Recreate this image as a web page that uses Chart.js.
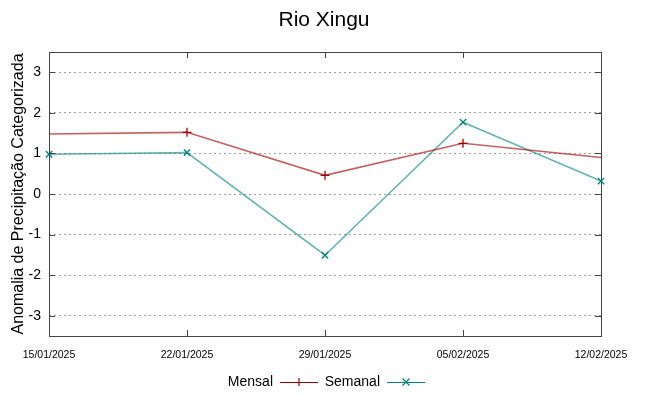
<!DOCTYPE html>
<html>
<head>
<meta charset="utf-8">
<script src="https://cdn.jsdelivr.net/npm/chart.js@4/dist/chart.umd.min.js"></script>
<style>
  html, body { margin: 0; padding: 0; background: #fff; }
  #wrap { width: 648px; height: 396px; }
</style>
</head>
<body>
<div id="wrap"><canvas id="chart" width="648" height="396"></canvas></div>
<script>
const dates = ['15/01/2025', '22/01/2025', '29/01/2025', '05/02/2025', '12/02/2025'];
const mensal = [1.48, 1.52, 0.46, 1.25, 0.90];
const semanal = [0.98, 1.02, -1.51, 1.77, 0.32];
const yTicks = [-3, -2, -1, 0, 1, 2, 3];

const FONT = "'Liberation Sans', Arial, sans-serif";

// gnuplot-style box, inward tics and the legend at the bottom
const framePlugin = {
    id: 'frame',
    afterDraw(chart) {
        const ctx = chart.ctx;
        const a = chart.chartArea;
        const y = chart.scales.y;
        const x = chart.scales.x;
        ctx.save();
        ctx.strokeStyle = '#444';
        ctx.lineWidth = 1;
        ctx.strokeRect(a.left + 0.5, a.top + 0.5, a.right - a.left, a.bottom - a.top);
        ctx.beginPath();
        yTicks.forEach(v => {
            const py = Math.round(y.getPixelForValue(v)) + 0.5;
            ctx.moveTo(a.left, py); ctx.lineTo(a.left + 6, py);
            ctx.moveTo(a.right, py); ctx.lineTo(a.right - 6, py);
        });
        dates.forEach((d, i) => {
            const px = Math.round(x.getPixelForValue(i)) + 0.5;
            ctx.moveTo(px, a.bottom); ctx.lineTo(px, a.bottom - 6);
            ctx.moveTo(px, a.top); ctx.lineTo(px, a.top + 6);
        });
        ctx.stroke();

        // legend
        const ly = 382;
        ctx.font = '14px ' + FONT;
        ctx.fillStyle = '#000';
        ctx.textAlign = 'right';
        ctx.textBaseline = 'middle';
        const items = [
            { label: 'Mensal', end: 273, color: '#a00000', style: 'cross' },
            { label: 'Semanal', end: 380, color: '#008080', style: 'crossRot' }
        ];
        items.forEach(it => {
            ctx.fillText(it.label, it.end, ly);
            const x1 = it.end + 7, x2 = it.end + 45, xm = (x1 + x2) / 2;
            ctx.strokeStyle = it.color;
            ctx.lineWidth = 1.2;
            ctx.beginPath();
            ctx.moveTo(x1, ly + 0.5); ctx.lineTo(x2, ly + 0.5);
            if (it.style === 'cross') {
                ctx.moveTo(xm, ly - 4); ctx.lineTo(xm, ly + 4);
            } else {
                ctx.moveTo(xm - 3.5, ly - 3.5); ctx.lineTo(xm + 3.5, ly + 3.5);
                ctx.moveTo(xm - 3.5, ly + 3.5); ctx.lineTo(xm + 3.5, ly - 3.5);
            }
            ctx.stroke();
        });
        ctx.restore();
    }
};

new Chart(document.getElementById('chart').getContext('2d'), {
    type: 'line',
    data: {
        labels: dates,
        datasets: [
            {
                label: 'Mensal',
                data: mensal,
                borderColor: 'rgba(165, 10, 10, 0.65)',
                borderWidth: 1.6,
                pointStyle: 'cross',
                pointRadius: [0, 4.5, 4.5, 4.5, 0],
                pointBorderColor: '#a00000',
                pointBorderWidth: 1.3,
                tension: 0,
                clip: false
            },
            {
                label: 'Semanal',
                data: semanal,
                borderColor: 'rgba(0, 128, 128, 0.6)',
                borderWidth: 1.6,
                pointStyle: 'crossRot',
                pointRadius: 4.5,
                pointBorderColor: '#008080',
                pointBorderWidth: 1.3,
                tension: 0,
                clip: false
            }
        ]
    },
    options: {
        responsive: false,
        animation: false,
        layout: { padding: { left: 0, top: 52, right: 47, bottom: 0 } },
        plugins: {
            legend: { display: false },
            tooltip: { enabled: false },
            title: { display: false }
        },
        scales: {
            x: {
                offset: false,
                grid: { display: false, drawTicks: false },
                border: { display: false },
                ticks: {
                    color: '#000',
                    font: { family: FONT, size: 10.5 },
                    padding: 13,
                    maxRotation: 0,
                    autoSkip: false
                },
                afterFit: s => { s.height = 60; }
            },
            y: {
                min: -3.5,
                max: 3.5,
                afterBuildTicks: s => { s.ticks = yTicks.map(v => ({ value: v })); },
                grid: { color: '#a0a0a0', lineWidth: 1, drawTicks: false },
                border: { display: false, dash: [2, 3] },
                ticks: {
                    color: '#000',
                    font: { family: FONT, size: 14 },
                    padding: 8
                },
                title: {
                    display: true,
                    text: 'Anomalia de Precipitação Categorizada',
                    color: '#000',
                    font: { family: FONT, size: 16 },
                    padding: { top: 9, bottom: 0 }
                },
                afterFit: s => { s.width = 49; }
            }
        }
    },
    plugins: [framePlugin, {
        id: 'maintitle',
        afterDraw(chart) {
            const ctx = chart.ctx;
            ctx.save();
            ctx.font = '21px ' + FONT;
            ctx.fillStyle = '#000';
            ctx.textAlign = 'center';
            ctx.textBaseline = 'middle';
            ctx.fillText('Rio Xingu', 324, 20);
            ctx.restore();
        }
    }]
});
</script>
</body>
</html>
